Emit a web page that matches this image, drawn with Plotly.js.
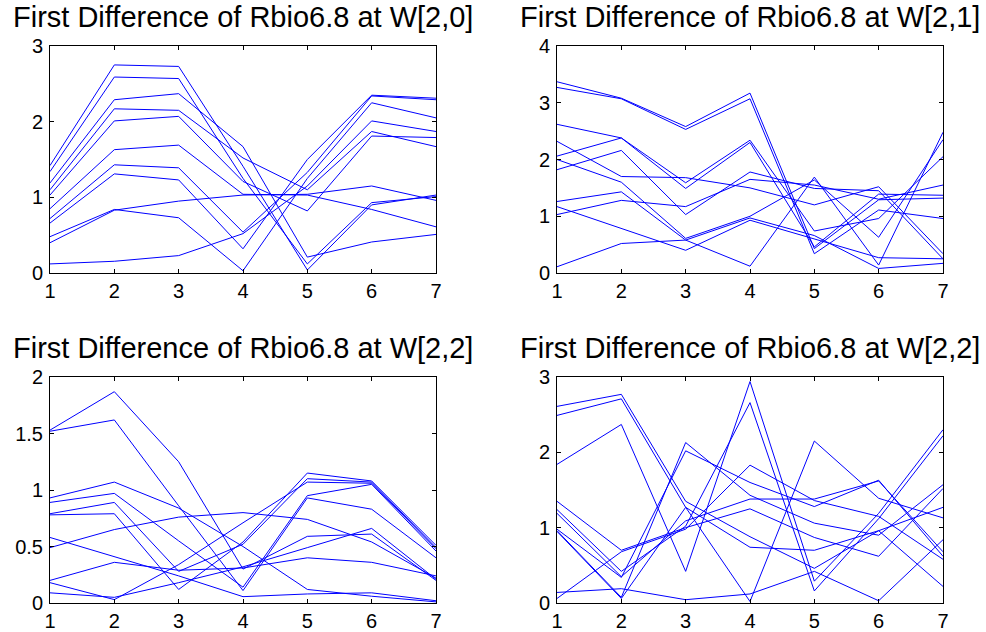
<!DOCTYPE html>
<html>
<head>
<meta charset="utf-8">
<script src="https://cdn.plot.ly/plotly-3.0.1.min.js"></script>
<style>
  html, body { margin: 0; padding: 0; background: #fff; }
  #chart { width: 986px; height: 632px; }
</style>
</head>
<body>
<div id="chart"></div>
<script>
// ---- data ----
const xLevels = [1, 2, 3, 4, 5, 6, 7];

const titles = [
  "First Difference of Rbio6.8 at W[2,0]",
  "First Difference of Rbio6.8 at W[2,1]",
  "First Difference of Rbio6.8 at W[2,2]",
  "First Difference of Rbio6.8 at W[2,2]"
];

const seriesW20 = [
  [1.42, 2.75, 2.73, 1.41, 0.04, 0.90, 1.03],
  [1.34, 2.59, 2.57, 1.25, 0.12, 0.93, 1.01],
  [1.19, 2.29, 2.37, 1.67, 0.21, 0.41, 0.51],
  [1.10, 2.17, 2.15, 1.52, 1.10, 1.87, 1.67],
  [1.03, 2.01, 2.07, 1.21, 0.82, 1.81, 1.79],
  [0.85, 1.63, 1.69, 1.04, 1.03, 0.84, 0.61],
  [0.72, 1.43, 1.39, 0.54, 1.33, 2.34, 2.29],
  [0.66, 1.31, 1.23, 0.32, 1.50, 2.35, 2.31],
  [0.48, 0.84, 0.73, 0.03, 1.25, 2.25, 2.05],
  [0.40, 0.83, 0.95, 1.03, 1.04, 1.15, 0.96],
  [0.12, 0.155, 0.23, 0.52, 1.15, 2.01, 1.87]
];

const seriesW21 = [
  [3.37, 3.08, 2.58, 3.17, 0.43, 1.29, 1.32],
  [3.27, 3.07, 2.53, 3.07, 0.34, 1.11, 0.96],
  [2.62, 2.38, 1.59, 2.34, 0.74, 0.96, 2.05],
  [2.06, 2.38, 1.49, 2.30, 0.46, 1.39, 1.37],
  [1.82, 2.16, 1.03, 1.78, 1.49, 1.45, 0.25],
  [2.32, 1.70, 1.68, 1.50, 1.20, 1.52, 0.34],
  [2.00, 1.60, 0.61, 1.00, 1.64, 0.63, 2.35],
  [1.26, 1.43, 0.58, 0.12, 1.69, 0.14, 2.48],
  [1.17, 0.78, 0.40, 0.93, 0.60, 0.27, 0.25],
  [1.03, 1.28, 1.17, 1.65, 1.55, 1.30, 1.55],
  [0.11, 0.52, 0.58, 0.97, 0.66, 0.08, 0.17]
];

const seriesW22a = [
  [1.53, 1.87, 1.25, 0.30, 0.59, 0.61, 0.20],
  [1.52, 1.62, 0.86, 0.11, 0.93, 0.83, 0.40],
  [0.93, 1.07, 0.84, 0.50, 0.12, 0.06, 0.01],
  [0.89, 0.97, 0.55, 0.14, 0.95, 1.05, 0.46],
  [0.79, 0.89, 0.28, 0.52, 1.10, 1.07, 0.49],
  [0.78, 0.79, 0.12, 0.54, 1.15, 1.08, 0.51],
  [0.49, 0.65, 0.76, 0.80, 0.74, 0.54, 0.22],
  [0.58, 0.41, 0.24, 0.056, 0.08, 0.09, 0.02],
  [0.20, 0.36, 0.29, 0.31, 0.40, 0.36, 0.24],
  [0.09, 0.05, 0.18, 0.32, 0.49, 0.66, 0.21],
  [0.18, 0.03, 0.34, 0.71, 1.07, 1.06, 0.48]
];

const seriesW22b = [
  [2.61, 2.77, 1.35, 0.88, 0.46, 0.96, 1.27],
  [2.49, 2.71, 1.27, 0.74, 0.70, 0.96, 0.22],
  [1.84, 2.37, 0.42, 2.94, 0.29, 1.19, 2.30],
  [1.35, 0.70, 1.00, 1.25, 0.87, 0.62, 1.52],
  [1.24, 0.42, 1.02, 2.66, 0.16, 1.12, 2.22],
  [1.19, 0.35, 1.09, 1.38, 1.38, 1.62, 0.68],
  [0.98, 0.34, 2.02, 1.60, 1.28, 1.63, 0.62],
  [0.96, 0.075, 2.13, 1.43, 1.06, 0.90, 1.57],
  [0.95, 0.06, 1.27, 0.02, 2.15, 1.39, 1.13],
  [0.14, 0.19, 0.044, 0.12, 0.42, 0.03, 0.84],
  [0.06, 0.68, 0.98, 1.83, 1.36, 1.15, 0.58]
];

const yRanges = [[0, 3], [0, 4], [0, 2], [0, 3]];
const yDticks = [1, 1, 0.5, 1];

// ---- layout geometry (pixels in a 986x632 page) ----
const W = 986, H = 632;
const boxes = [
  {l: 50, r: 436, t: 46, b: 273},
  {l: 557, r: 943, t: 46, b: 273},
  {l: 50, r: 436, t: 377, b: 603},
  {l: 557, r: 943, t: 377, b: 603}
];
const titleMid = [17, 17, 348, 348];

const allSeries = [seriesW20, seriesW21, seriesW22a, seriesW22b];
const FONT = "Liberation Sans, Arial, Helvetica, sans-serif";

const traces = [];
const layout = {
  width: W, height: H,
  margin: {l: 0, r: 0, t: 0, b: 0},
  paper_bgcolor: "#ffffff",
  plot_bgcolor: "#ffffff",
  showlegend: false,
  hovermode: false,
  font: {family: FONT, size: 20, color: "#000"},
  annotations: []
};

allSeries.forEach((set, i) => {
  const ax = i === 0 ? "" : String(i + 1);
  set.forEach(vals => {
    traces.push({
      type: "scatter", mode: "lines",
      x: xLevels, y: vals,
      xaxis: "x" + ax, yaxis: "y" + ax,
      line: {color: "rgb(0,0,255)", width: 1},
      hoverinfo: "skip"
    });
  });
  const b = boxes[i];
  const common = {
    showline: true, linecolor: "#000", linewidth: 1, mirror: "ticks",
    ticks: "inside", ticklen: 4, tickwidth: 1, tickcolor: "#000",
    showgrid: false, zeroline: false, fixedrange: true,
    tickfont: {family: FONT, size: 20, color: "#000"}
  };
  layout["xaxis" + ax] = Object.assign({}, common, {
    domain: [b.l / W, b.r / W],
    range: [1, 7], dtick: 1, tick0: 1,
    anchor: "y" + ax,
    ticklabelstandoff: 0
  });
  layout["yaxis" + ax] = Object.assign({}, common, {
    domain: [1 - b.b / H, 1 - b.t / H],
    range: yRanges[i], dtick: yDticks[i], tick0: 0,
    anchor: "x" + ax,
    ticklabelstandoff: 2
  });
  layout.annotations.push({
    text: titles[i],
    xref: "paper", yref: "paper",
    x: ((b.l + b.r) / 2) / W, y: 1 - titleMid[i] / H,
    xanchor: "center", yanchor: "middle",
    showarrow: false,
    font: {family: FONT, size: 29, color: "#000"}
  });
});

Plotly.newPlot("chart", traces, layout, {staticPlot: true, displayModeBar: false});
</script>
</body>
</html>
